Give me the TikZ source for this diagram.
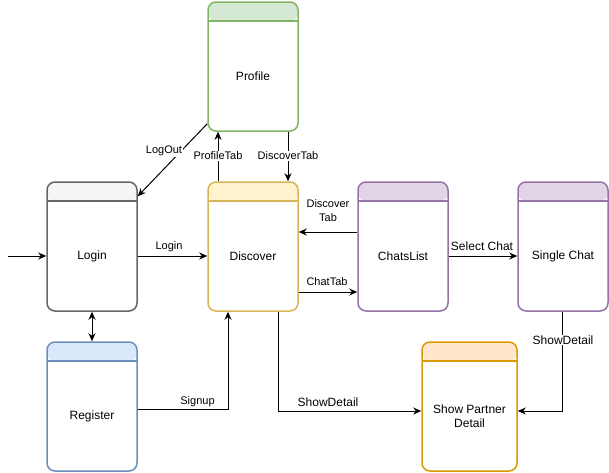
\documentclass[tikz,border=0pt]{standalone}
\usepackage{fontspec}
\setmainfont{Liberation Sans}
\usetikzlibrary{arrows.meta}
\definecolor{gS}{HTML}{82B366}\definecolor{gF}{HTML}{D5E8D4}
\definecolor{kS}{HTML}{666666}\definecolor{kF}{HTML}{F5F5F5}
\definecolor{yS}{HTML}{D6B656}\definecolor{yF}{HTML}{FFF2CC}
\definecolor{pS}{HTML}{9673A6}\definecolor{pF}{HTML}{E1D5E7}
\definecolor{bS}{HTML}{6C8EBF}\definecolor{bF}{HTML}{DAE8FC}
\definecolor{oS}{HTML}{D79B00}\definecolor{oF}{HTML}{FFE6CC}
\tikzset{
  screen/.style n args={3}{draw=#1, fill=white, line width=1.5pt, rounded corners=8pt,
    minimum width=#3, minimum height=129pt, inner sep=0pt,
    path picture={
      \fill[#2] ([yshift=2pt]path picture bounding box.north west) rectangle ([yshift=-19pt]path picture bounding box.north east);
      \draw[#1, line width=1.5pt] ([yshift=-19pt]path picture bounding box.north west) -- ([yshift=-19pt]path picture bounding box.north east);
    }},
  boxtext/.style={font=\fontsize{12}{14}\selectfont, align=center, inner sep=0pt},
  lbl/.style={font=\fontsize{11}{13}\selectfont, align=center, fill=white, inner sep=1pt},
  lblb/.style={lbl, font=\fontsize{12}{14}\selectfont},
  arr/.style={-{Stealth[length=8pt,width=7pt,inset=2.5pt]}, line width=1pt},
  darr/.style={{Stealth[length=8pt,width=7pt,inset=2.5pt]}-{Stealth[length=8pt,width=7pt,inset=2.5pt]}, line width=1pt}
}
\begin{document}
\begin{tikzpicture}[x=1pt,y=-1pt]
\useasboundingbox (0,0) rectangle (609,472);
% boxes
\node[screen={gS}{gF}{90pt}] (profile) at (253,66.5) {};
\node[screen={kS}{kF}{90pt}] (login) at (92,246.5) {};
\node[screen={yS}{yF}{90pt}] (discover) at (253,246.5) {};
\node[screen={pS}{pF}{90pt}] (chats) at (403,246.5) {};
\node[screen={pS}{pF}{90pt}] (single) at (563,246.5) {};
\node[screen={bS}{bF}{90pt}] (register) at (92,406.5) {};
\node[screen={oS}{oF}{95pt}] (partner) at (469.5,406.5) {};
% box texts
\node[boxtext] (profileT) at (253,76) {Profile};
\node[boxtext] (loginT) at (92,256) {Login};
\node[boxtext] (discoverT) at (253,256) {Discover};
\node[boxtext] (chatsT) at (403,256) {ChatsList};
\node[boxtext] (singleT) at (563,256) {Single Chat};
\node[boxtext] (registerT) at (92,416) {Register};
\node[boxtext] (partnerT) at (469.5,416) {Show Partner\\Detail};
% connectors
\coordinate (start) at (8,256);
\draw[arr] (start) -- (login.west |- loginT);
\draw[arr] (login.east |- loginT) -- (discover.west |- discoverT);
\draw[darr] (login.south) -- (register.north);
\draw[arr] ([yshift=-3pt]register.east) -| ([xshift=-25pt]discover.south);
\draw[arr] ([xshift=25pt]discover.south) |- ([yshift=-4.5pt]partner.west);
\draw[arr] ([xshift=-0.5pt]single.south) |- ([yshift=-4.5pt]partner.east);
\draw[arr] (chats.east |- chatsT) -- (single.west |- singleT);
\draw[arr] ([yshift=14.5pt]chats.west) -- ([yshift=14.5pt]discover.east);
\draw[arr] ([yshift=-45.5pt]discover.east) -- ([yshift=-45.5pt]chats.west);
\draw[arr] ([xshift=-35pt]discover.north) -- ([xshift=-35pt]profile.south);
\draw[arr] ([xshift=35pt]profile.south) -- ([xshift=35pt]discover.north);
\draw[arr] ([yshift=8pt]profile.south west) -- ([yshift=-15pt]login.north east);
% labels
\node[lbl] (lLogin) at (169,247) {Login};
\node[lbl] (lSignup) at (197.5,402) {Signup};
\node[lblb] (lShow1) at (328,402) {ShowDetail};
\node[lblb] (lShow2) at (563,340) {ShowDetail};
\node[lblb] (lSelect) at (482,246) {Select Chat};
\node[lbl, font=\fontsize{11}{14}\selectfont] (lDTab) at (328,211) {Discover\\Tab};
\node[lbl] (lChat) at (327,282) {ChatTab};
\node[lbl] (lProf) at (218,156) {ProfileTab};
\node[lbl] (lDisc) at (288,156) {DiscoverTab};
\node[lbl] (lOut) at (164,151) {LogOut};
\end{tikzpicture}
\end{document}
